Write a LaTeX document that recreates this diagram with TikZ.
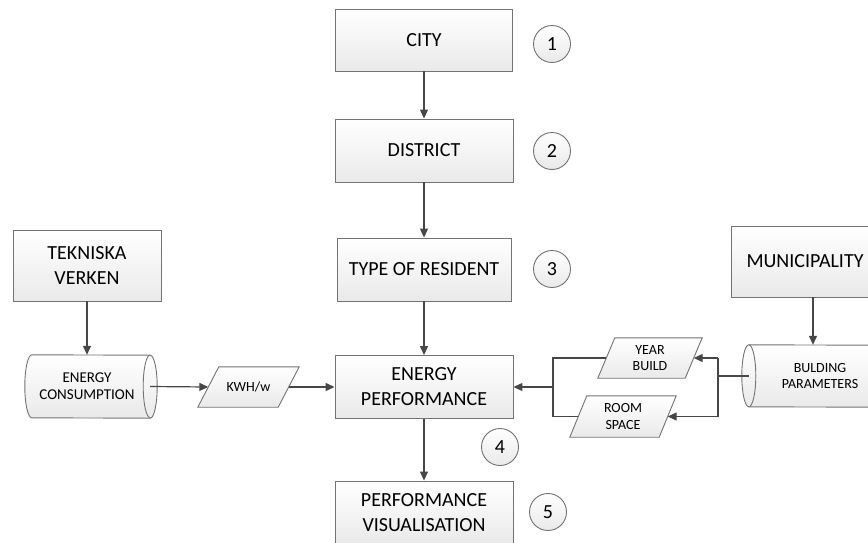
\documentclass[tikz,border=0pt]{standalone}
\usepackage{fontspec}
\setmainfont{Carlito}
\usetikzlibrary{arrows.meta,calc}
\pgfdeclarelayer{bg}
\pgfsetlayers{bg,main}
\begin{document}
\begin{tikzpicture}[x=1pt,y=1pt,
  fillgrad/.style={top color=white,bottom color=gray!17,draw=black!55,line width=0.9pt},
  box/.style={rectangle,fillgrad,align=center,font=\fontsize{20}{25}\selectfont,inner sep=0pt},
  plain/.style={rectangle,align=center,inner sep=0pt},
  small/.style={font=\fontsize{14}{16.5}\selectfont},
  num/.style={circle,fillgrad,minimum size=37pt,font=\fontsize{20}{24}\selectfont,inner sep=0pt},
  arr/.style={draw=black!72,line width=1.2pt,-{Triangle[length=9pt,width=8pt]}},
  ln/.style={draw=black!72,line width=1.2pt}]
\useasboundingbox (0,0) rectangle (868,-542);

% main column
\node[box,minimum width=177pt,minimum height=62pt] (city) at (424,-40) {CITY};
\node[box,minimum width=178pt,minimum height=63pt] (district) at (424,-150.5) {DISTRICT};
\node[box,minimum width=174pt,minimum height=63pt] (type) at (424,-269.5) {TYPE OF RESIDENT};
\node[box,minimum width=178pt,minimum height=63pt] (ep) at (424,-387) {ENERGY\\PERFORMANCE};
\node[box,minimum width=178pt,minimum height=63pt] (pv) at (424,-512.5) {PERFORMANCE\\VISUALISATION};

% side sources
\node[box,minimum width=148pt,minimum height=71pt] (tek) at (87,-265.5) {TEKNISKA\\VERKEN};
\node[box,minimum width=148pt,minimum height=71pt] (mun) at (805,-261.5) {MUNICIPALITY};

% number circles
\node[num] (n1) at (552,-44) {1};
\node[num] (n2) at (552,-151) {2};
\node[num] (n3) at (552,-269) {3};
\node[num] (n4) at (500,-447) {4};
\node[num] (n5) at (548,-512) {5};

% cylinders (text nodes; outlines drawn on background)
\node[plain,minimum width=132pt,minimum height=63pt,font=\fontsize{15}{17}\selectfont] (ec) at (91,-386.5)
  {\hspace*{-8pt}ENERGY\\\hspace*{-8pt}CONSUMPTION};
\node[plain,small,minimum width=142pt,minimum height=62pt] (bp) at (813,-376)
  {\hspace*{14pt}BULDING\\\hspace*{14pt}PARAMETERS};

% parallelograms (text nodes)
\node[plain,small,minimum width=101pt,minimum height=40pt] (kwh) at (248.5,-387) {KWH/w};
\node[plain,small,minimum width=104pt,minimum height=40pt] (yb) at (650,-358) {YEAR\\BUILD};
\node[plain,small,minimum width=106pt,minimum height=41pt] (rs) at (623,-416.5) {ROOM\\SPACE};

\begin{pgfonlayer}{bg}
  % energy consumption cylinder
  \path[fillgrad] ($(ec.north west)+(7,0)$) arc[start angle=90,end angle=270,x radius=7pt,y radius=31.5pt]
    -- ($(ec.south east)+(-7,0)$) arc[start angle=-90,end angle=90,x radius=7pt,y radius=31.5pt] -- cycle;
  \draw[draw=black!55,line width=0.9pt] ($(ec.north east)+(-7,0)$) arc[start angle=90,end angle=270,x radius=7pt,y radius=31.5pt];
  % building parameters cylinder
  \path[fillgrad] ($(bp.north west)+(7,0)$) arc[start angle=90,end angle=270,x radius=7pt,y radius=31pt]
    -- ($(bp.south east)+(-7,0)$) arc[start angle=-90,end angle=90,x radius=7pt,y radius=31pt] -- cycle;
  \draw[draw=black!55,line width=0.9pt] ($(bp.north west)+(7,0)$) arc[start angle=90,end angle=-90,x radius=7pt,y radius=31pt];
  % parallelograms
  \path[fillgrad] (kwh.south west) -- ($(kwh.north west)+(21,0)$) -- (kwh.north east) -- ($(kwh.south east)+(-21,0)$) -- cycle;
  \path[fillgrad] (yb.south west) -- ($(yb.north west)+(17,0)$) -- (yb.north east) -- ($(yb.south east)+(-17,0)$) -- cycle;
  \path[fillgrad] (rs.south west) -- ($(rs.north west)+(17,0)$) -- (rs.north east) -- ($(rs.south east)+(-17,0)$) -- cycle;
\end{pgfonlayer}

% junction points
\coordinate (jr) at (718,-387);
\coordinate (jl) at (553,-387);

% connectors
\draw[arr] (city) -- (district);
\draw[arr] (district) -- (type);
\draw[arr] (type) -- (ep);
\draw[arr] (ep) -- (pv);
\draw[arr] (tek.south) -- (tek.south |- ec.north);
\draw[arr] ($(ec.east)+(-7,0)$) -- ($(kwh.west)+(10.5,0)$);
\draw[arr] ($(kwh.east)+(-10.5,0)$) -- (ep.west);
\draw[arr] (bp.north |- mun.south) -- (bp.north);
\draw[ln] ($(bp.west)+(7,0)$) -- (bp.west -| jr);
\draw[ln] (jr |- yb.east) -- (jr |- rs.east);
\draw[arr] (jr |- yb.east) -- ($(yb.east)+(-8.5,0)$);
\draw[arr] (jr |- rs.east) -- ($(rs.east)+(-8.5,0)$);
\draw[ln] ($(yb.west)+(8.5,0)$) -- (jl |- yb.west) -- (jl |- rs.west) -- ($(rs.west)+(8.5,0)$);
\draw[arr] (jl |- ep.east) -- (ep.east);
\end{tikzpicture}
\end{document}
